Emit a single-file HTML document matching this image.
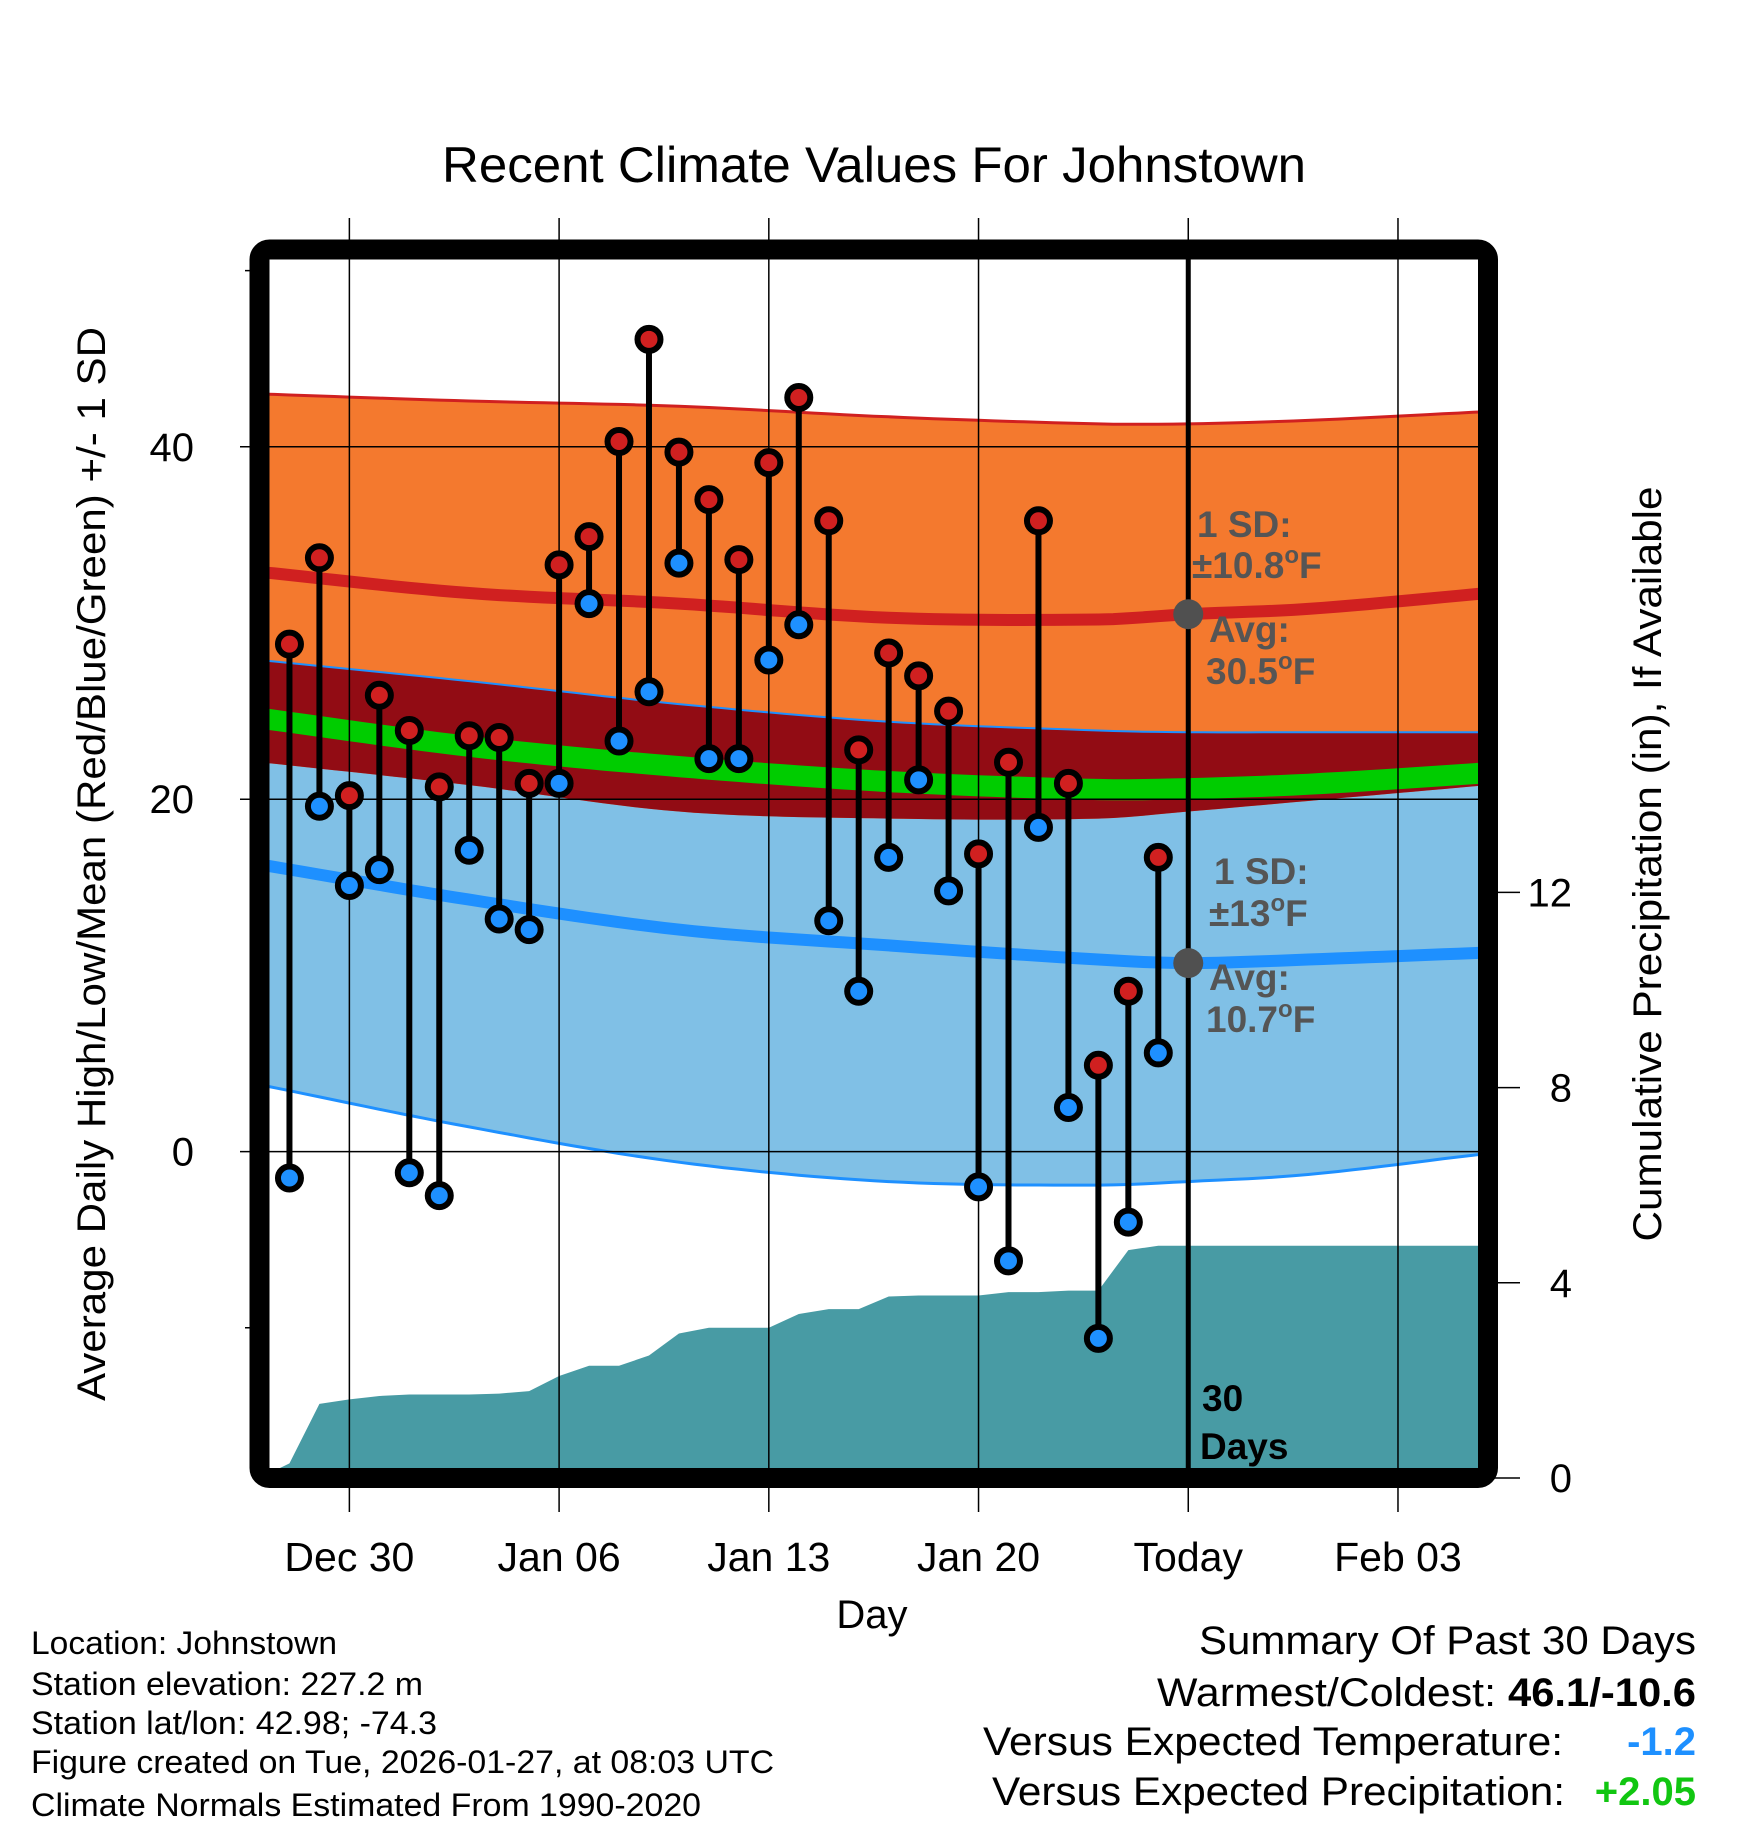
<!DOCTYPE html>
<html><head><meta charset="utf-8">
<style>
html,body{margin:0;padding:0;background:#fff;}
svg{display:block;font-family:"Liberation Sans",Arial,sans-serif;}
</style></head>
<body>
<svg id="chart" width="1748" height="1828" viewBox="0 0 1748 1828" xmlns="http://www.w3.org/2000/svg">
<defs><clipPath id="plotclip"><rect x="269" y="259" width="1210" height="1210"/></clipPath></defs>
<g id="bands" clip-path="url(#plotclip)"></g>
<g id="grid"></g>
<g id="marks"></g>
<rect x="259.5" y="249.5" width="1228.5" height="1228.5" rx="10" fill="none" stroke="#000" stroke-width="20"/>
<g id="labels"></g>
<text x="874" y="182" font-size="50" text-anchor="middle" textLength="864" lengthAdjust="spacingAndGlyphs">Recent Climate Values For Johnstown</text>
<text x="872" y="1628" font-size="40" text-anchor="middle">Day</text>
<text transform="translate(105,864) rotate(-90)" font-size="40" text-anchor="middle" textLength="1074" lengthAdjust="spacingAndGlyphs">Average Daily High/Low/Mean (Red/Blue/Green) +/- 1 SD</text>
<text transform="translate(1661,864) rotate(-90)" font-size="40" text-anchor="middle" textLength="755" lengthAdjust="spacingAndGlyphs">Cumulative Precipitation (in), If Available</text>
<g font-size="37" font-weight="bold" fill="#555">
<text x="1197" y="537">1 SD:</text>
<text x="1192" y="578">±10.8<tspan font-size="24" dy="-15">o</tspan><tspan dy="15">F</tspan></text>
<text x="1209" y="642">Avg:</text>
<text x="1206" y="684">30.5<tspan font-size="24" dy="-15">o</tspan><tspan dy="15">F</tspan></text>
<text x="1214" y="884">1 SD:</text>
<text x="1209" y="926">±13<tspan font-size="24" dy="-15">o</tspan><tspan dy="15">F</tspan></text>
<text x="1209" y="990">Avg:</text>
<text x="1206" y="1032">10.7<tspan font-size="24" dy="-15">o</tspan><tspan dy="15">F</tspan></text>
</g>
<g font-size="37" font-weight="bold" fill="#000">
<text x="1202" y="1411">30</text>
<text x="1200" y="1459">Days</text>
</g>
<g font-size="32">
<text x="31" y="1654" textLength="306" lengthAdjust="spacingAndGlyphs">Location: Johnstown</text>
<text x="31" y="1695" textLength="392" lengthAdjust="spacingAndGlyphs">Station elevation: 227.2 m</text>
<text x="31" y="1734" textLength="406" lengthAdjust="spacingAndGlyphs">Station lat/lon: 42.98; -74.3</text>
<text x="31" y="1773" textLength="743" lengthAdjust="spacingAndGlyphs">Figure created on Tue, 2026-01-27, at 08:03 UTC</text>
<text x="31" y="1816" textLength="670" lengthAdjust="spacingAndGlyphs">Climate Normals Estimated From 1990-2020</text>
</g>
<g font-size="40">
<text x="1696" y="1654" text-anchor="end" textLength="497" lengthAdjust="spacingAndGlyphs">Summary Of Past 30 Days</text>
<text x="1496" y="1706" text-anchor="end" textLength="339" lengthAdjust="spacingAndGlyphs">Warmest/Coldest:</text>
<text x="1696" y="1706" text-anchor="end" font-weight="bold" textLength="188" lengthAdjust="spacingAndGlyphs">46.1/-10.6</text>
<text x="1563" y="1755" text-anchor="end" textLength="580" lengthAdjust="spacingAndGlyphs">Versus Expected Temperature:</text>
<text x="1696" y="1755" text-anchor="end" font-weight="bold" fill="#1e90ff">-1.2</text>
<text x="1565" y="1805" text-anchor="end" textLength="573" lengthAdjust="spacingAndGlyphs">Versus Expected Precipitation:</text>
<text x="1696" y="1805" text-anchor="end" font-weight="bold" fill="#11c611">+2.05</text>
</g>
</svg>
<script>
// Observed daily values, day index from Dec 27 (day 1 = Dec 28)
const obsDays = [1,2,3,4,5,6,7,8,9,10,11,12,13,14,15,16,17,18,19,20,21,22,23,24,25,26,27,28,29,30];
const highs = [28.8,33.7,20.2,25.9,23.9,20.7,23.6,23.5,20.9,33.3,34.9,40.3,46.1,39.7,37.0,33.6,39.1,42.8,35.8,22.8,28.3,27.0,25.0,16.9,22.1,35.8,20.9,4.9,9.1,16.7];
const lows = [-1.5,19.6,15.1,16.0,-1.2,-2.5,17.1,13.2,12.6,20.9,31.1,23.3,26.1,33.4,22.3,22.3,27.9,29.9,13.1,9.1,16.7,21.1,14.8,-2.0,-6.2,18.4,2.5,-10.6,-4.0,5.6];
// Cumulative precipitation (in), days 0..30
const precip = [0,0.3,1.52,1.61,1.68,1.71,1.71,1.71,1.73,1.78,2.09,2.30,2.30,2.51,2.96,3.08,3.08,3.08,3.36,3.46,3.46,3.72,3.74,3.74,3.74,3.81,3.81,3.84,3.84,4.67,4.76];
// Normals sampled at days
const normDays = [0,7,14,21,28,31,35,41];
const highMean = [32.9,31.7,31.1,30.3,30.2,30.5,30.8,31.7];
const highTop = [43.0,42.6,42.3,41.7,41.3,41.3,41.5,42.0];
const highBottom = [22.1,20.8,19.3,18.9,18.9,19.3,19.9,20.8];
const lowMean = [16.3,14.3,12.6,11.7,10.9,10.7,10.9,11.3];
const lowTop = [27.9,26.7,25.4,24.4,23.9,23.8,23.8,23.8];
const lowBottom = [3.8,1.4,-0.6,-1.7,-1.9,-1.7,-1.3,-0.1];
const xTickDays = [3,10,17,24,31,38];
const xTickLabels = ["Dec 30","Jan 06","Jan 13","Jan 20","Today","Feb 03"];
const yTicks = [0,20,40];
const yMinor = [-10,50];
const pTicks = [0,4,8,12];

const NS="http://www.w3.org/2000/svg";
const X = d => 259.5 + d*29.96;
const Y = t => 1151.6 - t*17.62;
const YP = p => 1478 - p*48.8;
function mk(tag, attrs, parent){const e=document.createElementNS(NS,tag);for(const k in attrs)e.setAttribute(k,attrs[k]);parent.appendChild(e);return e;}
const bands=document.getElementById('bands'), grid=document.getElementById('grid'), marks=document.getElementById('marks'), labels=document.getElementById('labels');
// smooth Hermite interpolation through the sampled normals
function interp(arr, d){
  const n=normDays.length;
  let i=0; while(i<n-2 && d>normDays[i+1]) i++;
  const x0=normDays[i], x1=normDays[i+1], h=x1-x0;
  const slope=k=>{
    if(k===0) return (arr[1]-arr[0])/(normDays[1]-normDays[0]);
    if(k===n-1) return (arr[n-1]-arr[n-2])/(normDays[n-1]-normDays[n-2]);
    return (arr[k+1]-arr[k-1])/(normDays[k+1]-normDays[k-1]);
  };
  const t=(d-x0)/h, t2=t*t, t3=t2*t;
  return (2*t3-3*t2+1)*arr[i]+(t3-2*t2+t)*h*slope(i)+(-2*t3+3*t2)*arr[i+1]+(t3-t2)*h*slope(i+1);
}
const fine=[]; for(let d=0; d<=41.001; d+=0.5) fine.push(d);
function line(arr){return fine.map(d=>X(d).toFixed(1)+','+Y(interp(arr,d)).toFixed(1));}
function area(top,bot){return line(top).concat(line(bot).reverse()).join(' ');}
const lowMid = normDays.map((d,i)=>(highMean[i]+lowMean[i])/2);
const gTop = lowMid.map(v=>v+0.6), gBot = lowMid.map(v=>v-0.6);
const overlapTop = normDays.map((d,i)=>Math.min(lowTop[i],highTop[i]));

let e;
e=mk('polygon',{points:area(lowTop,lowBottom),fill:'#80c0e6'},bands);


e=mk('polygon',{points:area(highTop,highBottom),fill:'#f4792e'},bands);


e=mk('polygon',{points:area(overlapTop,highBottom),fill:'#920c14'},bands);


e=mk('polygon',{points:area(gTop,gBot),fill:'#00cc00'},bands);


e=mk('polyline',{points:line(highTop).join(' '),fill:'none',stroke:'#d02020','stroke-width':3},bands);


e=mk('polyline',{points:line(lowTop).join(' '),fill:'none',stroke:'#1e90ff','stroke-width':2},bands);


e=mk('polyline',{points:line(lowBottom).join(' '),fill:'none',stroke:'#1e90ff','stroke-width':3},bands);


e=mk('polyline',{points:line(highMean).join(' '),fill:'none',stroke:'#d02020','stroke-width':12},bands);


e=mk('polyline',{points:line(lowMean).join(' '),fill:'none',stroke:'#1e90ff','stroke-width':12},bands);


// precipitation area
let pp=[X(0)+','+YP(0)];
precip.forEach((p,i)=>pp.push(X(i)+','+YP(p)));
pp.push(X(41)+','+YP(precip[precip.length-1]));
pp.push(X(41)+',1500');pp.push(X(0)+',1500');
e=mk('polygon',{points:pp.join(' '),fill:'#489ba4'},bands);



// grid
yTicks.forEach(t=>{
  e=mk('line',{x1:240,x2:1488,y1:Y(t),y2:Y(t),stroke:'#000','stroke-width':1.5},grid);
  
  
  e=mk('text',{x:194,y:Y(t)+14,'font-size':40,'text-anchor':'end'},labels);
  e.textContent=t;
  
  
});
yMinor.forEach(t=>{
  e=mk('line',{x1:245,x2:262,y1:Y(t),y2:Y(t),stroke:'#000','stroke-width':1.5},grid);
  
  
});
xTickDays.forEach((d,i)=>{
  const today = xTickLabels[i]==='Today';
  e=mk('line',{x1:X(d),x2:X(d),y1:218,y2:1512,stroke:'#000','stroke-width':1.5},grid);
  
  
  if(today){
    e=mk('line',{x1:X(d),x2:X(d),y1:255,y2:1472,stroke:'#000','stroke-width':5},grid);
    
    
  }
  e=mk('text',{x:X(d),y:1571,'font-size':41,'text-anchor':'middle'},labels);
  e.textContent=xTickLabels[i];
  
  
});
pTicks.forEach(p=>{
  e=mk('line',{x1:1488,x2:1520,y1:YP(p),y2:YP(p),stroke:'#000','stroke-width':1.5},grid);
  
  
  e=mk('text',{x:1572,y:YP(p)+14,'font-size':40,'text-anchor':'end'},labels);
  e.textContent=p;
  
  
});
// today avg dots
e=mk('circle',{cx:X(31),cy:Y(interp(highMean,31)),r:15,fill:'#505050'},marks);


e=mk('circle',{cx:X(31),cy:Y(interp(lowMean,31)),r:15,fill:'#505050'},marks);


// daily bars
obsDays.forEach((d,i)=>{
  e=mk('line',{x1:X(d),x2:X(d),y1:Y(highs[i]),y2:Y(lows[i]),stroke:'#000','stroke-width':6},marks);
  
  
});
obsDays.forEach((d,i)=>{
  e=mk('circle',{cx:X(d),cy:Y(highs[i]),r:11.5,fill:'#d02020',stroke:'#000','stroke-width':6},marks);
  
  
  e=mk('circle',{cx:X(d),cy:Y(lows[i]),r:11.5,fill:'#1e90ff',stroke:'#000','stroke-width':6},marks);
  
  
});
</script>
</body></html>
